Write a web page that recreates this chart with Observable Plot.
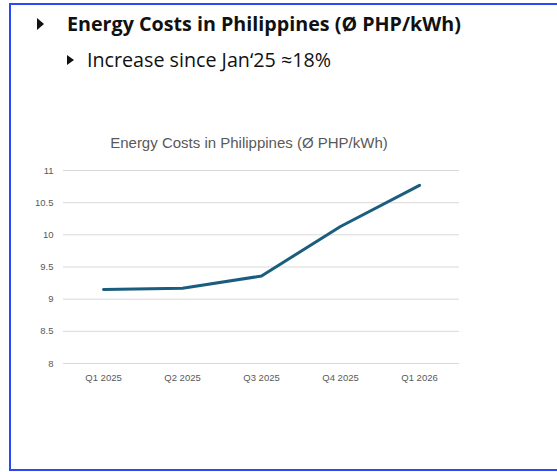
<!DOCTYPE html>
<html>
<head>
<meta charset="utf-8">
<script src="https://cdn.jsdelivr.net/npm/d3@7"></script>
<script src="https://cdn.jsdelivr.net/npm/@observablehq/plot@0.6"></script>
<style>
  html, body { margin: 0; padding: 0; background: #fff; }
  body { width: 557px; height: 472px; position: relative; overflow: hidden; }
  .frame { position: absolute; left: 9px; top: 3px; width: 600px; height: 464px; border: 2px solid #2a48f5; }
  .h1 { position: absolute; left: 67px; top: 14px; font: bold 19.7px/19.7px "Open Sans", sans-serif; color: #111; white-space: nowrap; }
  .h2 { position: absolute; left: 87px; top: 50px; font: 19.7px/19.7px "Open Sans", sans-serif; color: #111; white-space: nowrap; }
  .tri1 { position: absolute; left: 37px; top: 18px; width: 0; height: 0; border-left: 7px solid #111; border-top: 6px solid transparent; border-bottom: 6px solid transparent; }
  .tri2 { position: absolute; left: 67px; top: 55px; width: 0; height: 0; border-left: 7px solid #111; border-top: 5px solid transparent; border-bottom: 5px solid transparent; }
  .ctitle { position: absolute; left: 0; width: 498px; top: 135px; text-align: center; font: 15px/16px "Liberation Sans", Arial, sans-serif; color: #595959; white-space: nowrap; }
  #chart { position: absolute; left: 0; top: 0; }
</style>
</head>
<body>
<div class="frame"></div>
<div class="tri1"></div>
<div class="h1">Energy Costs in Philippines (Ø PHP/kWh)</div>
<div class="tri2"></div>
<div class="h2">Increase since Jan‘25 ≈18%</div>
<div class="ctitle">Energy Costs in Philippines (Ø PHP/kWh)</div>
<div id="chart"></div>
<script>
const quarters = ["Q1 2025", "Q2 2025", "Q3 2025", "Q4 2025", "Q1 2026"];
const costs = [9.15, 9.17, 9.36, 10.13, 10.77];
const yTicks = [8, 8.5, 9, 9.5, 10, 10.5, 11];

const data = quarters.map((q, i) => ({quarter: q, cost: costs[i]}));

const chart = Plot.plot({
  width: 557,
  height: 472,
  marginLeft: 63,
  marginRight: 98,
  marginTop: 170,
  marginBottom: 109,
  style: {fontFamily: "'Liberation Sans', Arial, sans-serif", fontSize: "9.5px", color: "#595959", background: "transparent", overflow: "visible"},
  x: {type: "point", domain: quarters, padding: 0.5, label: null, tickSize: 0, tickPadding: 11},
  y: {domain: [8, 11], ticks: yTicks, label: null, tickSize: 0, tickPadding: 10, tickFormat: d => String(d)},
  marks: [
    Plot.gridY(yTicks, {stroke: "#d9d9d9", strokeOpacity: 1, strokeWidth: 1}),
    Plot.line(data, {x: "quarter", y: "cost", stroke: "#1b5d7e", strokeWidth: 3, strokeLinecap: "round", strokeLinejoin: "round"}),
    Plot.axisY(yTicks, {tickSize: 0, tickPadding: 10, tickFormat: d => String(d), fill: "#595959"}),
    Plot.axisX({tickSize: 0, tickPadding: 11, fill: "#595959"})
  ]
});
document.getElementById("chart").appendChild(chart);
</script>
</body>
</html>
